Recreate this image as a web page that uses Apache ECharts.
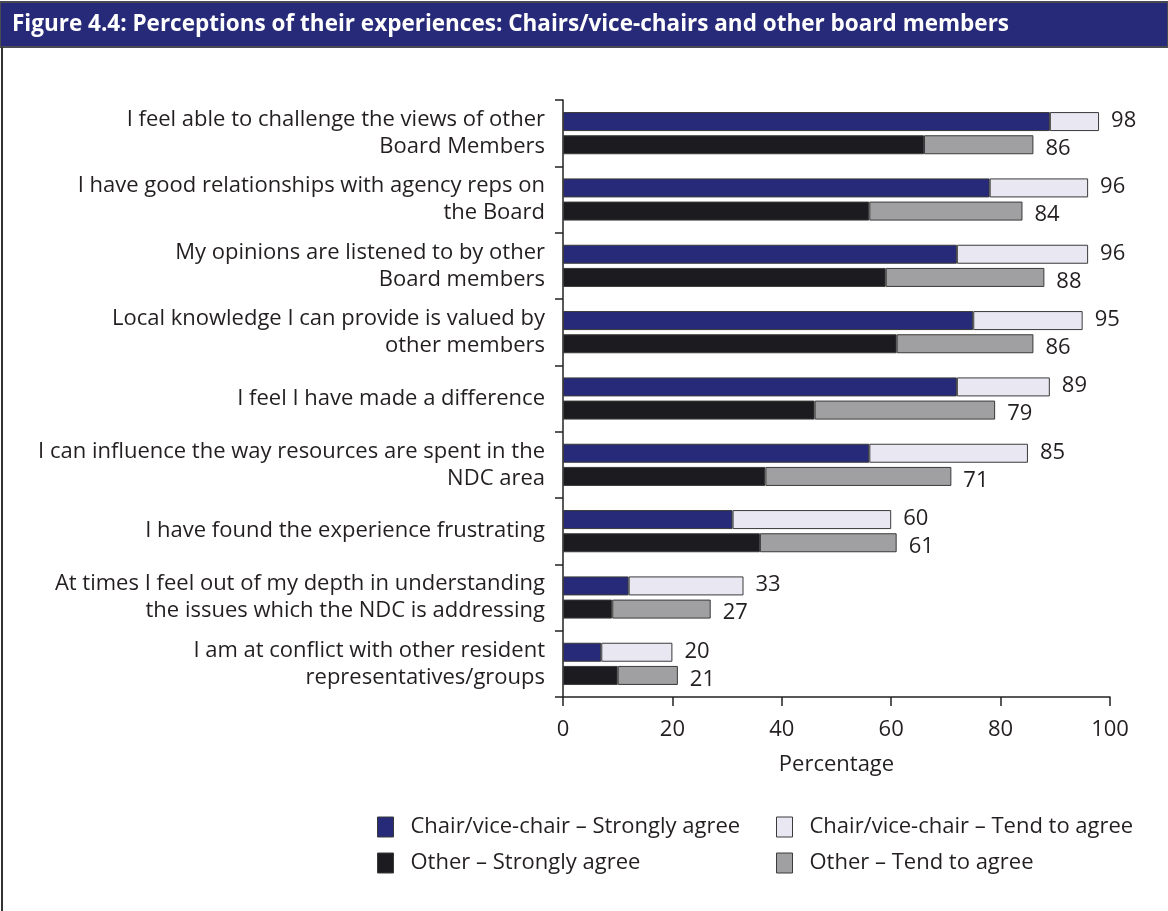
<!DOCTYPE html>
<html>
<head>
<meta charset="utf-8">
<style>
  html, body { margin: 0; padding: 0; background: #fff; }
  #chart { width: 1168px; height: 911px; }
</style>
<script src="https://cdn.jsdelivr.net/npm/echarts@6/dist/echarts.min.js"></script>
</head>
<body>
<div id="chart"></div>
<script>
const categories = [
  "I feel able to challenge the views of other\nBoard Members",
  "I have good relationships with agency reps on\nthe Board",
  "My opinions are listened to by other\nBoard members",
  "Local knowledge I can provide is valued by\nother members",
  "I feel I have made a difference",
  "I can influence the way resources are spent in the\nNDC area",
  "I have found the experience frustrating",
  "At times I feel out of my depth in understanding\nthe issues which the NDC is addressing",
  "I am at conflict with other resident\nrepresentatives/groups",
];
const chairStrongly = [89, 78, 72, 75, 72, 56, 31, 12, 7];
const chairTend = [9, 18, 24, 20, 17, 29, 29, 21, 13];
const otherStrongly = [66, 56, 59, 61, 46, 37, 36, 9, 10];
const otherTend = [20, 28, 29, 25, 33, 34, 25, 18, 11];
const xTicks = [0, 20, 40, 60, 80, 100];

const FONT = "'Open Sans', sans-serif";
const TEXT = "#231f20";
const FS = 22;
const colors = {
  chairStrongly: "#262a78",
  chairTend: "#e8e7f2",
  otherStrongly: "#1c1b20",
  otherTend: "#a0a0a2",
  edge: "#3a3a3a",
};

const chart = echarts.init(document.getElementById("chart"));

function barSeries(name, stack, data, color, totals) {
  const s = {
    name,
    type: "bar",
    stack,
    data,
    barWidth: 19,
    barGap: "22%",
    itemStyle: { color, borderColor: colors.edge, borderWidth: 1 },
    emphasis: { disabled: true },
  };
  if (totals) {
    s.label = {
      show: true,
      position: "right",
      distance: 12,
      fontFamily: FONT,
      fontSize: FS,
      color: TEXT,
      offset: [0, stack === "chair" ? -1 : 4],
      formatter: (p) => String(totals[0][p.dataIndex] + totals[1][p.dataIndex]),
    };
  }
  return s;
}

function legendItem(name, left, top) {
  return {
    data: [{ name, icon: "rect" }],
    left,
    top,
    itemWidth: 16,
    itemHeight: 20,
    selectedMode: false,
    itemStyle: { borderColor: colors.edge, borderWidth: 1 },
    textStyle: { fontFamily: FONT, fontSize: FS, color: TEXT, padding: [0, 0, 0, 12] },
  };
}

chart.setOption({
  animation: false,
  textStyle: { fontFamily: FONT },
  title: {
    text: "Figure 4.4: Perceptions of their experiences: Chairs/vice-chairs and other board members",
    left: 7,
    top: 8,
    textStyle: { fontFamily: FONT, fontSize: 22.5, fontWeight: "bold", color: "#ffffff" },
  },
  graphic: [
    {
      type: "rect",
      z: -1,
      shape: { x: 0, y: 2, width: 1168, height: 45 },
      style: { fill: "#262a78", stroke: "#4a4a52", lineWidth: 2 },
      silent: true,
    },
    {
      type: "line",
      shape: { x1: 2, y1: 47, x2: 2, y2: 911 },
      style: { stroke: "#333", lineWidth: 2 },
      silent: true,
    },
  ],
  legend: [
    legendItem("Chair/vice-chair – Strongly agree", 372, 811),
    legendItem("Chair/vice-chair – Tend to agree", 771, 811),
    legendItem("Other – Strongly agree", 372, 847),
    legendItem("Other – Tend to agree", 771, 847),
  ],
  grid: { left: 563, right: 58, top: 100, bottom: 214, containLabel: false },
  xAxis: {
    type: "value",
    min: xTicks[0],
    max: xTicks[xTicks.length - 1],
    interval: 20,
    name: "Percentage",
    nameLocation: "middle",
    nameGap: 57,
    nameTextStyle: { fontFamily: FONT, fontSize: FS, color: TEXT },
    axisLine: { show: true, lineStyle: { color: "#222", width: 1.5 } },
    axisTick: { show: true, length: 9, lineStyle: { color: "#222", width: 1.5 } },
    axisLabel: { fontFamily: FONT, fontSize: FS, color: TEXT, margin: 22 },
    splitLine: { show: false },
  },
  yAxis: {
    type: "category",
    data: categories,
    inverse: true,
    axisLine: { show: true, lineStyle: { color: "#222", width: 1.5 } },
    axisTick: { show: true, length: 8, lineStyle: { color: "#222", width: 1.5 } },
    axisLabel: {
      fontFamily: FONT,
      fontSize: FS,
      color: TEXT,
      margin: 18,
      lineHeight: 27,
      align: "right",
    },
  },
  series: [
    barSeries("Chair/vice-chair – Strongly agree", "chair", chairStrongly, colors.chairStrongly),
    barSeries("Chair/vice-chair – Tend to agree", "chair", chairTend, colors.chairTend, [chairStrongly, chairTend]),
    barSeries("Other – Strongly agree", "other", otherStrongly, colors.otherStrongly),
    barSeries("Other – Tend to agree", "other", otherTend, colors.otherTend, [otherStrongly, otherTend]),
  ],
});
</script>
</body>
</html>
